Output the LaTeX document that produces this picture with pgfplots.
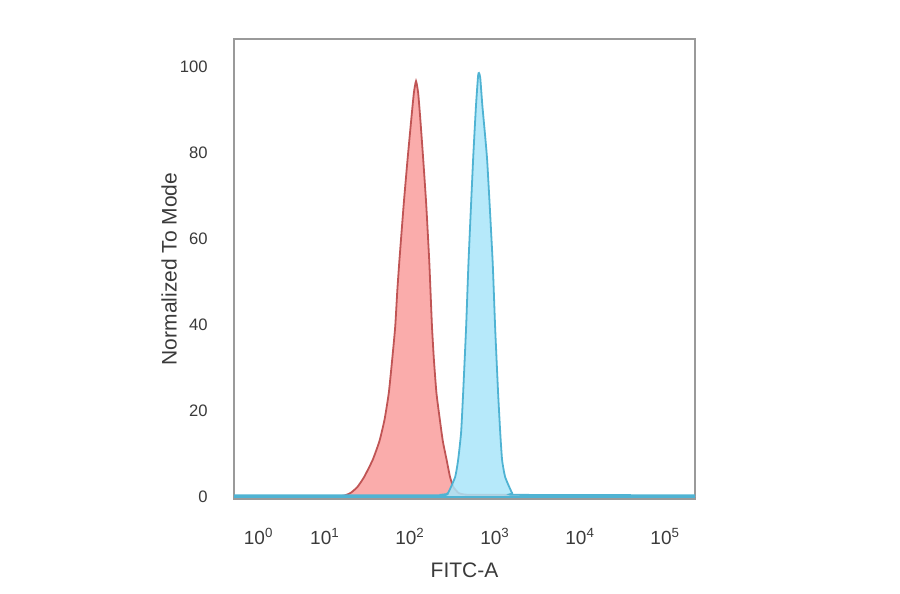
\documentclass[border=0pt]{standalone}
\usepackage{pgfplots}
\pgfplotsset{compat=1.18}
\usepackage{fontspec}
\setmainfont{Liberation Sans}

\definecolor{redfill}{HTML}{F9A3A2}
\definecolor{rededge}{HTML}{C05555}
\definecolor{bluefill}{HTML}{A9E5F9}
\definecolor{blueedge}{HTML}{4FB3D3}
\definecolor{framegray}{HTML}{9A9A9A}
\definecolor{txt}{HTML}{3A3A3A}

\begin{document}
\begin{tikzpicture}
\useasboundingbox (0,0) rectangle (450pt,297pt);
\begin{axis}[
    at={(117pt,47.5pt)}, anchor=south west,
    width=230.5pt, height=230pt, scale only axis,
    xmin=-0.07, xmax=5.35,
    ymin=-0.47, ymax=106.5,
    axis line style={framegray, line width=1pt},
    major tick length=0pt,
    xtick={0.22,1,2,3,4,5},
    xticklabels={10\textsuperscript{0},10\textsuperscript{1},10\textsuperscript{2},10\textsuperscript{3},10\textsuperscript{4},10\textsuperscript{5}},
    ytick={0,20,40,60,80,100},
    /pgf/number format/assume math mode=true,
    xticklabel style={font=\fontsize{9.5}{10}\selectfont, text=txt, yshift=-11pt},
    yticklabel style={font=\fontsize{8.3}{10}\selectfont, text=txt, xshift=-9.7pt},
    xlabel={FITC-A},
    ylabel={Normalized To Mode},
    xlabel style={font=\fontsize{10.5}{12}\selectfont, text=txt, at={(axis description cs:0.5,-0.154)}, anchor=center},
    ylabel style={font=\fontsize{10.5}{12}\selectfont, text=txt, at={(axis description cs:-0.141,0.5)}, anchor=center},
]
% control (red)
\addplot[fill=redfill, draw=rededge, line width=0.9pt, fill opacity=0.9, smooth, tension=0.3] coordinates {
(-0.07,0.2) (1.10,0.2) (1.22,0.3) (1.30,0.93) (1.38,2.3) (1.46,4.65)
(1.56,8.6) (1.64,13) (1.70,18) (1.75,24.2) (1.79,32) (1.825,39.5)
(1.85,48) (1.875,55.1) (1.925,68) (1.97,78.4) (2.015,88) (2.045,94)
(2.07,96.7) (2.095,94) (2.12,88) (2.155,78.4) (2.19,68) (2.225,55.1)
(2.24,48) (2.258,39.5) (2.28,32) (2.31,24.2) (2.35,18) (2.385,13)
(2.43,8.6) (2.47,4.65) (2.51,2.3) (2.57,0.93) (2.65,0.55) (2.9,0.5)
(3.15,0.5) (3.22,0.2) (5.35,0.2)
} \closedcycle;
% stained (blue)
\addplot[fill=bluefill, draw=blueedge, line width=0.9pt, fill opacity=0.85, smooth, tension=0.3] coordinates {
(-0.07,0.4) (2.30,0.4) (2.40,0.6) (2.447,0.93) (2.53,4.65) (2.565,8.6)
(2.60,15) (2.624,24.2) (2.659,39.5) (2.688,55.1) (2.741,78.4) (2.775,91)
(2.80,98) (2.81,98.6) (2.825,97.5) (2.85,91) (2.906,78.4) (2.97,55.1)
(3.0,39.5) (3.035,24.2) (3.06,15) (3.082,8.6) (3.118,4.65) (3.2,0.93)
(3.26,0.5) (5.35,0.4)
} \closedcycle;
\end{axis}
\end{tikzpicture}
\end{document}
